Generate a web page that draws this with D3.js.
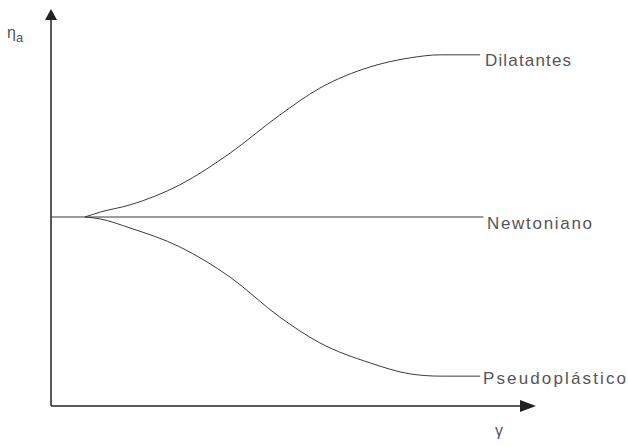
<!DOCTYPE html>
<html><head><meta charset="utf-8">
<script src="https://cdn.jsdelivr.net/npm/d3@7"></script>
<style>html,body{margin:0;padding:0;background:#fff;}svg{display:block;}</style>
</head><body>
<svg id="c" width="628" height="447"></svg>
<script>
// Shear rate (x) and apparent viscosity (y), in arbitrary units
const dilatantesX = [0.72, 1.05, 1.68, 2.74, 3.81, 4.87, 5.72, 6.79, 7.64, 8.28, 9.13];
const dilatantesY = [5.00, 5.13, 5.32, 5.85, 6.69, 7.70, 8.41, 8.97, 9.21, 9.29, 9.29];
const newtonianoX = [0.00, 9.20];
const newtonianoY = [5.00, 5.00];
const pseudoX = [0.72, 1.04, 1.68, 2.74, 3.81, 4.87, 5.72, 6.79, 7.64, 8.28, 9.13];
const pseudoY = [5.00, 4.95, 4.71, 4.21, 3.41, 2.35, 1.67, 1.14, 0.85, 0.79, 0.79];
const seriesNames = ["Dilatantes", "Newtoniano", "Pseudoplástico"];
const axisLabelX = "γ";
const axisLabelY = "η";
const axisLabelYSub = "a";

const svg = d3.select("#c");
const x = d3.scaleLinear().domain([0, 10]).range([51, 521]);
const y = d3.scaleLinear().domain([0, 10]).range([406, 28]);

const ink = "#222";
const curveCol = "#3a3a3a";

// axes
svg.append("line").attr("x1", x(0)).attr("x2", x(0)).attr("y1", y(0)).attr("y2", 18)
  .attr("stroke", ink).attr("stroke-width", 1.5);
svg.append("line").attr("x1", x(0)).attr("x2", 521).attr("y1", y(0)).attr("y2", y(0))
  .attr("stroke", ink).attr("stroke-width", 1.5);
// arrowheads
svg.append("path").attr("d", `M${x(0)},9 L${x(0)-6},20 L${x(0)+6},20 Z`).attr("fill", ink);
svg.append("path").attr("d", `M536,${y(0)} L520,${y(0)-6} L520,${y(0)+6} Z`).attr("fill", ink);

const line = d3.line().x(d => x(d[0])).y(d => y(d[1])).curve(d3.curveMonotoneX);
const series = [
  {name: seriesNames[0], xs: dilatantesX, ys: dilatantesY},
  {name: seriesNames[1], xs: newtonianoX, ys: newtonianoY},
  {name: seriesNames[2], xs: pseudoX, ys: pseudoY}
];
series.forEach(s => {
  const pts = s.xs.map((v, i) => [v, s.ys[i]]);
  svg.append("path").attr("d", line(pts)).attr("fill", "none")
    .attr("stroke", curveCol).attr("stroke-width", 1);
});

const font = "'Liberation Sans', Arial, sans-serif";
const labels = [
  {t: seriesNames[0], x: 485, y: 66, w: 86},
  {t: seriesNames[1], x: 487, y: 229, w: 105},
  {t: seriesNames[2], x: 483, y: 384, w: 143}
];
labels.forEach(l => {
  svg.append("text").attr("x", l.x).attr("y", l.y).text(l.t)
    .attr("font-family", font).attr("font-size", 17).attr("fill", "#555")
    .attr("textLength", l.w).attr("lengthAdjust", "spacing");
});

svg.append("text").attr("x", 495).attr("y", 436).text(axisLabelX)
  .attr("font-family", font).attr("font-size", 16).attr("fill", "#555");
const yl = svg.append("text").attr("x", 7).attr("y", 38)
  .attr("font-family", font).attr("font-size", 16).attr("fill", "#555");
yl.append("tspan").text(axisLabelY);
yl.append("tspan").text(axisLabelYSub).attr("font-size", 13).attr("dy", 4);
</script>
</body></html>
